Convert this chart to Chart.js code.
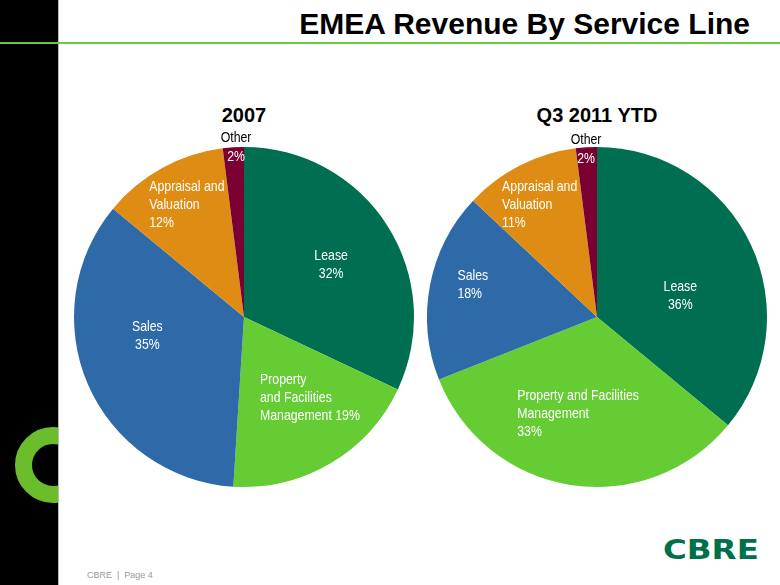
<!DOCTYPE html>
<html lang="en">
<head>
  <meta charset="UTF-8">
  <title>EMEA Revenue By Service Line</title>
  <script src="https://cdn.jsdelivr.net/npm/chart.js@4.4.1/dist/chart.umd.min.js"></script>
  <style>
    html, body {
      margin: 0;
      padding: 0;
      width: 780px;
      height: 585px;
      overflow: hidden;
      background: #fff;
      font-family: 'Liberation Sans', Arial, sans-serif;
    }

    .side-bar {
      position: absolute;
      left: 0; top: 0;
      width: 58px; height: 585px;
      background: #000;
      border-right: 1px solid #bbb;
      overflow: hidden;
    }

    .ring {
      position: absolute;
      left: 15px; top: 427px;
      width: 42px; height: 42px;
      border: 17px solid #6cbd2c;
      border-radius: 50%;
      background: #000;
    }

    .rule {
      position: absolute;
      left: 0; top: 42px;
      width: 780px; height: 2px;
      background: #6cc840;
    }

    h1 {
      position: absolute;
      right: 30px; top: 9px;
      margin: 0;
      font-size: 30px;
      line-height: 30px;
      font-weight: bold;
      color: #000;
    }

    .pie-title {
      position: absolute;
      top: 104px;
      width: 340px;
      text-align: center;
      font-size: 20px;
      font-weight: bold;
    }

    .pie-box {
      position: absolute;
      top: 127px;
      width: 380px; height: 380px;
    }

    .footer {
      position: absolute;
      left: 87px; top: 570px;
      font-size: 9px;
      color: #9a9a9a;
    }

    .logo {
      position: absolute;
      left: 663px; top: 535px;
      font-family: 'DejaVu Sans', sans-serif;
      font-weight: bold;
      font-size: 26px;
      color: #00704a;
      transform: scaleX(1.25);
      transform-origin: left top;
    }
  </style>
</head>
<body>

  <div class="side-bar"><div class="ring"></div></div>
  <div class="rule"></div>
  <h1>EMEA Revenue By Service Line</h1>

  <div class="pie-title" style="left:74px">2007</div>
  <div class="pie-title" style="left:427px">Q3 2011 YTD</div>

  <div class="pie-box" style="left:54px"><canvas id="pie2007"></canvas></div>
  <div class="pie-box" style="left:407px"><canvas id="pie2011"></canvas></div>

  <div class="footer">CBRE &nbsp;|&nbsp; Page 4</div>
  <div class="logo">CBRE</div>

  <script>
    const categories = ['Lease', 'Property and Facilities Management', 'Sales', 'Appraisal and Valuation', 'Other'];
    const share2007 = [32, 19, 35, 12, 2];
    const share2011 = [36, 33, 18, 11, 2];
    const sliceColors = ['#006e50', '#66cc33', '#2e6aa8', '#df8c14', '#7a0032'];

    // '#' is replaced by the slice value
    const lines2007 = [['Lease', '#'], ['Property', 'and Facilities', 'Management #'], ['Sales', '#'], ['Appraisal and', 'Valuation', '#'], ['Other', '#']];
    const lines2011 = [['Lease', '#'], ['Property and Facilities', 'Management', '#'], ['Sales', '#'], ['Appraisal and', 'Valuation', '#'], ['Other', '#']];

    // label placement relative to each slice (fraction of radius + nudge)
    const place2007 = [
      { f: 0.6, dx: 1, dy: 3, align: 'center' },
      { f: 0.6, dx: 14, dy: -7, align: 'left' },
      { f: 0.6, dx: -3, dy: -22, align: 'center' },
      { f: 0.6, dx: -8, dy: -23, align: 'left' },
      { f: 0.93, dx: 2, dy: -2, align: 'outside' }
    ];
    const place2011 = [
      { f: 0.6, dx: -9, dy: 22, align: 'center' },
      { f: 0.6, dx: -3, dy: -4, align: 'left' },
      { f: 0.6, dx: -24, dy: -13, align: 'left' },
      { f: 0.6, dx: -11, dy: -21, align: 'left' },
      { f: 0.93, dx: -1, dy: 0, align: 'outside' }
    ];

    // narrow look of the original labels
    const squeeze = 0.82;

    function narrowText(ctx, s, x, y, align) {
      const w = ctx.measureText(s).width * squeeze;
      const left = align === 'center' ? x - w / 2 : x;
      ctx.save();
      ctx.translate(left, y);
      ctx.scale(squeeze, 1);
      ctx.textAlign = 'left';
      ctx.fillText(s, 0, 0);
      ctx.restore();
    }

    const sliceLabels = {
      id: 'sliceLabels',
      afterDatasetsDraw(chart, args, opts) {
        const ctx = chart.ctx;
        const meta = chart.getDatasetMeta(0);
        const values = chart.data.datasets[0].data;
        ctx.save();
        ctx.font = "15px 'Liberation Sans', Arial, sans-serif";
        ctx.textBaseline = 'middle';
        const lh = 18;
        meta.data.forEach((arc, i) => {
          const p = arc.getProps(['x', 'y', 'startAngle', 'endAngle', 'outerRadius'], true);
          const mid = (p.startAngle + p.endAngle) / 2;
          const pl = opts.place[i];
          const ax = p.x + Math.cos(mid) * p.outerRadius * pl.f + pl.dx;
          const ay = p.y + Math.sin(mid) * p.outerRadius * pl.f + pl.dy;
          const lines = opts.lines[i].map(s => s.replace('#', values[i] + '%'));

          if (pl.align === 'outside') {
            ctx.fillStyle = '#000';
            narrowText(ctx, lines[0], ax, ay - 19, 'center');
            ctx.fillStyle = '#fff';
            narrowText(ctx, lines[1], ax, ay, 'center');
            return;
          }

          ctx.fillStyle = '#fff';
          const maxW = Math.max(...lines.map(s => ctx.measureText(s).width)) * squeeze;
          const y0 = ay - (lines.length - 1) * lh / 2;
          lines.forEach((s, k) => {
            if (pl.align === 'center') {
              narrowText(ctx, s, ax, y0 + k * lh, 'center');
            } else {
              narrowText(ctx, s, ax - maxW / 2, y0 + k * lh, 'left');
            }
          });
        });
        ctx.restore();
      }
    };

    function makePie(id, values, lines, place) {
      return new Chart(document.getElementById(id), {
        type: 'pie',
        data: {
          labels: categories,
          datasets: [{
            data: values,
            backgroundColor: sliceColors,
            borderWidth: 0
          }]
        },
        options: {
          responsive: true,
          maintainAspectRatio: false,
          animation: false,
          events: [],
          layout: { padding: 20 },
          plugins: {
            legend: { display: false },
            tooltip: { enabled: false },
            sliceLabels: { lines, place }
          }
        },
        plugins: [sliceLabels]
      });
    }

    makePie('pie2007', share2007, lines2007, place2007);
    makePie('pie2011', share2011, lines2011, place2011);
  </script>

</body>
</html>
